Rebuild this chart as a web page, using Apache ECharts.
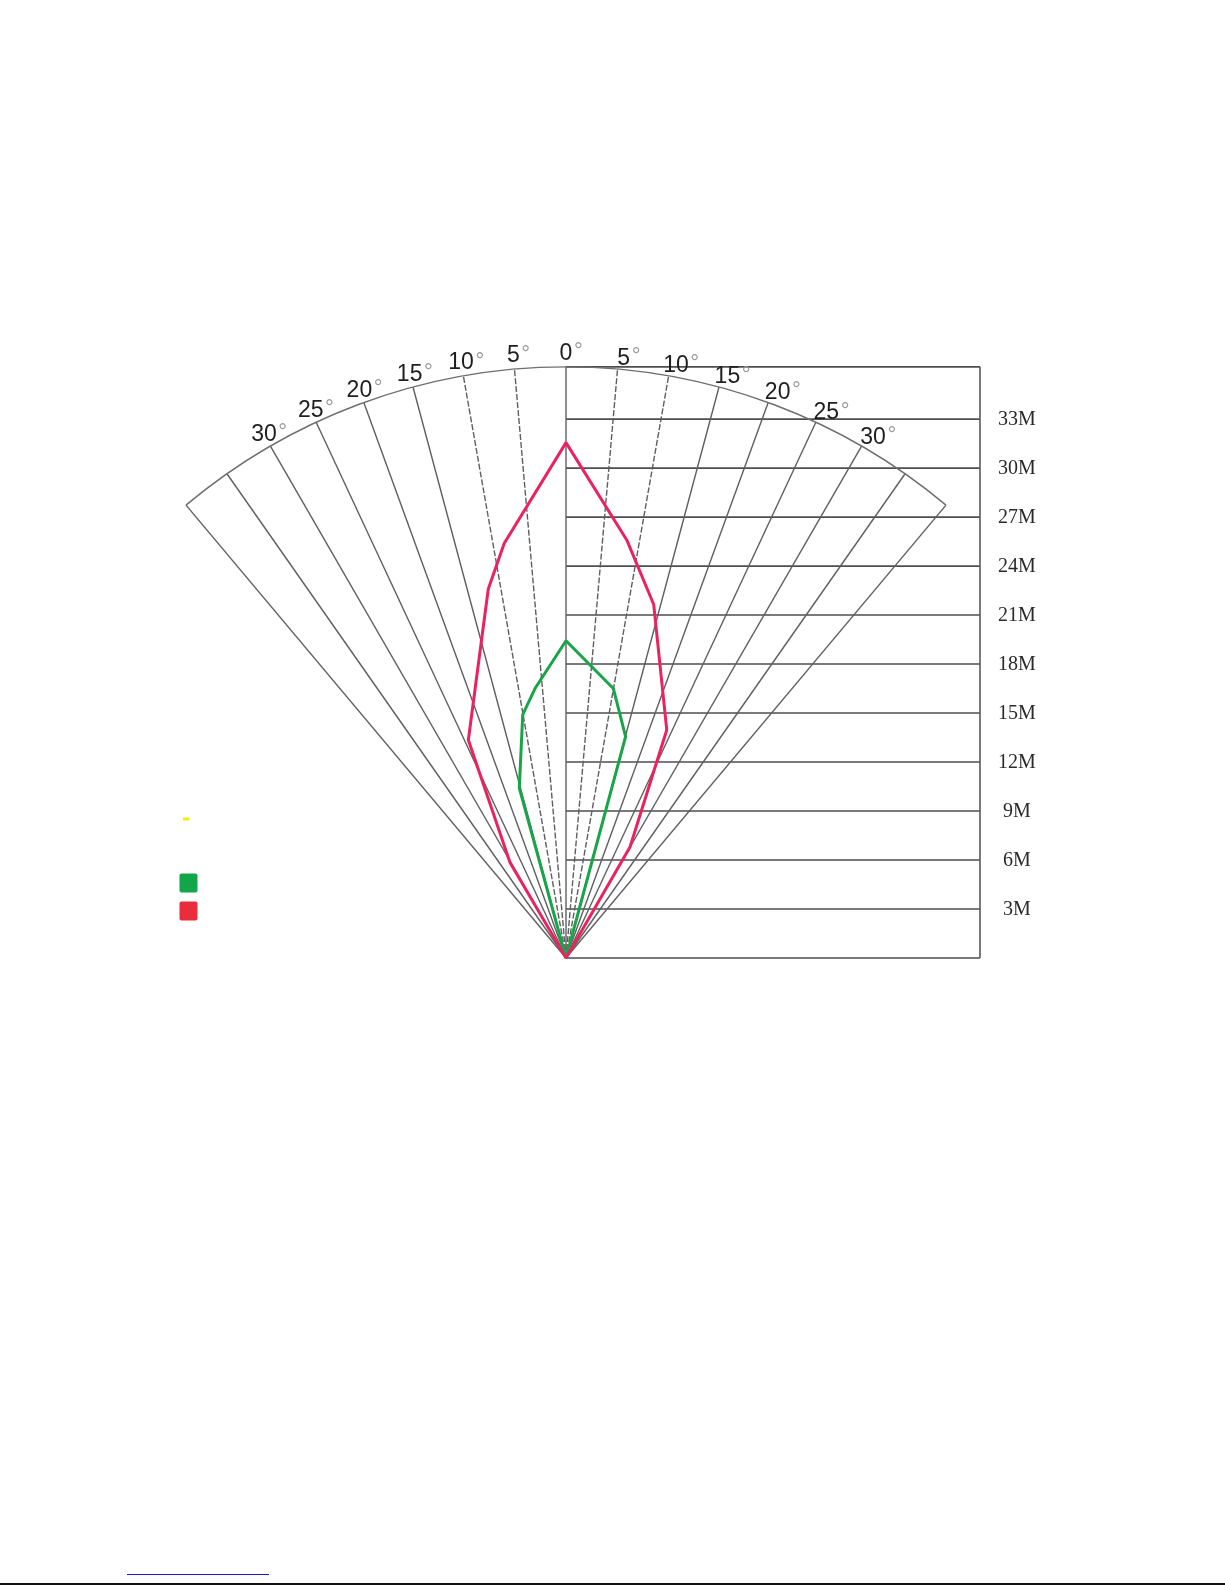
<!DOCTYPE html>
<html><head><meta charset="utf-8">
<script src="https://cdn.jsdelivr.net/npm/echarts@6/dist/echarts.min.js"></script>
<style>html,body{margin:0;padding:0;background:#fff}#c{width:1225px;height:1585px}</style>
</head><body><div id="c"></div>
<script>
// ---- data (metres / degrees) ----
const fanAngles = [-40,-35,-30,-25,-20,-15,-10,-5,0,5,10,15,20,25,30,35,40];
const angleLabels = [-30,-25,-20,-15,-10,-5,0,5,10,15,20,25,30];
const fanRadius = 36.2;
const rangeLines = [0,3,6,9,12,15,18,21,24,27,30,33,36.2];
const rangeTicks = [3,6,9,12,15,18,21,24,27,30,33];
const rangeLabels = ['3M','6M','9M','12M','15M','18M','21M','24M','27M','30M','33M'];
const boxRight = 25.35;
const greenX = [0, 3.65, 2.9, 0, -1.9, -2.65, -2.86, 0];
const greenY = [0, 13.55, 16.5, 19.43, 16.5, 14.9, 10.4, 0];
const redX = [0, 3.92, 6.17, 5.37, 3.72, 0, -3.78, -4.76, -5.98, -3.43, 0];
const redY = [0, 6.8, 13.96, 21.65, 25.6, 31.56, 25.4, 22.6, 13.35, 5.85, 0];

const measureCtx = document.createElement('canvas').getContext('2d');
function textW(t, font){ measureCtx.font = font; return measureCtx.measureText(t).width; }
const rad = d => d * Math.PI / 180;

const chart = echarts.init(document.getElementById('c'), null, {renderer:'canvas'});

const option = {
  animation: false,
  backgroundColor: '#fff',
  grid: {left: 76.1, right: 71.1, top: 304.8, bottom: 627, outerBoundsMode: 'none'},
  xAxis: {type:'value', min:-30, max:36, show:false},
  yAxis: {type:'value', min:0, max:40, show:false},
  series: [
    { // horizontal range lines + box
      type:'custom', z:1, silent:true,
      data: rangeLines.map(v => [v]),
      renderItem: function(params, api){
        const y = api.value(0);
        const a = api.coord([0, y]), b = api.coord([boxRight, y]);
        return {type:'line', shape:{x1:a[0], y1:a[1], x2:b[0], y2:b[1]},
          style:{stroke:'#4e4e4e', lineWidth:1.6}};
      }
    },
    { // right box side
      type:'custom', z:1, silent:true,
      data: [[boxRight]],
      renderItem: function(params, api){
        const x = api.value(0);
        const a = api.coord([x, 0]), b = api.coord([x, fanRadius]);
        return {type:'line', shape:{x1:a[0], y1:a[1], x2:b[0], y2:b[1]},
          style:{stroke:'#5a5a5a', lineWidth:1.6}};
      }
    },
    { // range labels
      type:'custom', z:3, silent:true,
      data: rangeTicks.map((v,i) => [v, i]),
      renderItem: function(params, api){
        const y = api.value(0);
        const p = api.coord([boxRight, y]);
        return {type:'text', x: p[0] + 37, y: p[1] + 1,
          style:{text: rangeLabels[api.value(1)], fill:'#2a2a2a', fontSize:20,
            fontFamily:'"Liberation Serif", "DejaVu Serif", serif', align:'center', verticalAlign:'middle'}};
      }
    },
    { // fan radial lines
      type:'custom', z:2, silent:true,
      data: fanAngles.map(a => [a]),
      renderItem: function(params, api){
        const ang = api.value(0);
        const o = api.coord([0,0]);
        const e = api.coord([fanRadius*Math.sin(rad(ang)), fanRadius*Math.cos(rad(ang))]);
        const abs = Math.abs(ang);
        const dashed = (abs === 5 || abs === 10);
        return {type:'line', shape:{x1:o[0], y1:o[1], x2:e[0], y2:e[1]},
          style:{stroke: '#5f5f5f', lineWidth:1.4, lineDash: dashed ? [6,2] : null}};
      }
    },
    { // fan arc
      type:'custom', z:2, silent:true,
      data: [[fanRadius]],
      renderItem: function(params, api){
        const r = api.value(0);
        const o = api.coord([0,0]);
        const rp = api.size([r, 0])[0];
        const lim = rad(fanAngles[fanAngles.length-1]);
        return {type:'arc', shape:{cx:o[0], cy:o[1], r: rp,
            startAngle: -Math.PI/2 - lim, endAngle: -Math.PI/2 + lim, clockwise:true},
          style:{stroke:'#6e6e6e', lineWidth:1.4, fill:null}};
      }
    },
    { // angle labels
      type:'custom', z:3, silent:true,
      data: angleLabels.map(a => [a]),
      renderItem: function(params, api){
        const ang = api.value(0);
        const e = api.coord([fanRadius*Math.sin(rad(ang)), fanRadius*Math.cos(rad(ang))]);
        const off = 13;
        let cx = e[0] + off*Math.sin(rad(ang));
        let cy = e[1] - off*Math.cos(rad(ang));
        if (ang > 0) { cx += 5; cy += 2.5; }
        const txt = String(Math.abs(ang));
        const font = '23px "Liberation Sans"';
        const w = textW(txt, font);
        return {type:'group', children:[
          {type:'text', x: cx, y: cy, style:{text: txt, fill:'#1e1e1e', fontSize:23,
            fontFamily:'"Liberation Sans", Arial, sans-serif', align:'center', verticalAlign:'middle'}},
          {type:'text', x: cx + w/2 + 6, y: cy - 1.5, style:{text:'°', fill:'#999', fontSize:22,
            fontFamily:'"Liberation Sans", Arial, sans-serif', align:'center', verticalAlign:'middle'}}
        ]};
      }
    },
    {
      type:'line', z:5, symbol:'none', silent:true,
      data: greenX.map((x,i) => [x, greenY[i]]),
      lineStyle:{color:'#17a548', width:3}
    },
    {
      type:'line', z:6, symbol:'none', silent:true,
      data: redX.map((x,i) => [x, redY[i]]),
      lineStyle:{color:'#ea2360', width:3}
    }
  ],
  graphic: [
    {type:'rect', shape:{x:183, y:817.5, width:6.5, height:3}, style:{fill:'#f2f200'}},
    {type:'rect', shape:{x:179.5, y:873.5, width:18, height:19, r:2}, style:{fill:'#12a64a'}},
    {type:'rect', shape:{x:179.5, y:901.5, width:18, height:19, r:2}, style:{fill:'#ea2d3b'}},
    {type:'line', shape:{x1:127, y1:1574.5, x2:269, y2:1574.5}, style:{stroke:'#1a1acc', lineWidth:1}},
    {type:'line', shape:{x1:0, y1:1584, x2:1225, y2:1584}, style:{stroke:'#111', lineWidth:2}}
  ]
};
chart.setOption(option);
</script>
</body></html>
